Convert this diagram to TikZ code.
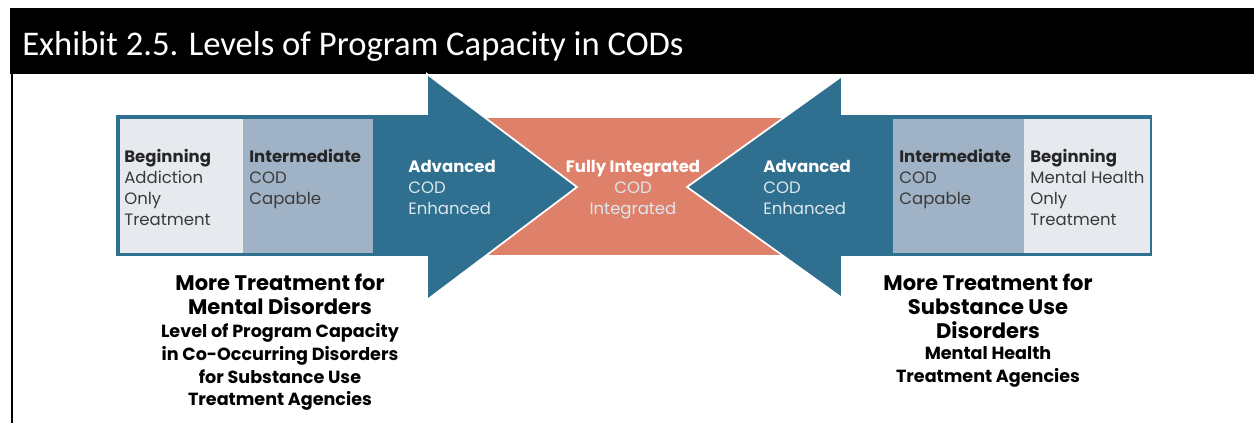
\documentclass[tikz,border=0pt]{standalone}
\usepackage{fontspec}
\setmainfont{Poppins}
\newfontfamily\titlefont{Carlito}
\usepackage{tikz}
\usetikzlibrary{calc}
\usetikzlibrary{positioning}
\definecolor{codblue}{HTML}{2F6F8F}
\definecolor{codlight}{HTML}{E6EAEE}
\definecolor{codmid}{HTML}{A0B2C6}
\definecolor{codorange}{HTML}{DF816A}
\definecolor{codpale}{HTML}{DCE7EE}
\definecolor{codtext}{HTML}{3A3A3A}
\tikzset{paneltext/.style={anchor=north west, inner sep=0pt, align=left, text=codtext,
    font=\fontsize{9.4}{11.9}\selectfont}}
\tikzset{darktext/.style={paneltext, text=codpale}}
\tikzset{headtext/.style={anchor=north, inner sep=0pt, align=center,
    font=\bfseries\fontsize{12}{13.6}\selectfont}}
\tikzset{subtext/.style={anchor=north, inner sep=0pt, align=center,
    font=\bfseries\fontsize{10}{13}\selectfont}}
\tikzset{arrowbody/.style={fill=codblue, draw=white, line width=1pt, line join=miter}}

\begin{document}
\begin{tikzpicture} [x=0.02cm,y=-0.02cm]
\useasboundingbox (0,0) rectangle (1254,423);
% title bar and frame
\fill [black] (10,8) rectangle (1254,74);
\draw [line width=1.2pt] (12,74)--(12,423);
\node [anchor=base west, inner sep=0pt, text=white, font=\titlefont\fontsize{19.7}{22}\selectfont] (title) at (22,55) {Exhibit 2.5. Levels of Program Capacity in CODs};
% middle band
\fill [codorange] (470,118) rectangle (800,255);
% the two arrows
\filldraw [arrowbody] (115,114)--(427,114)--(427,74)--(577,187)--(427,300)--(427,257)--(115,257)--cycle;
\filldraw [arrowbody] (1153,114)--(842,114)--(842,76)--(687,187)--(842,298)--(842,257)--(1153,257)--cycle;
% panels
\fill [codlight] (120,119) rectangle (243,253);
\fill [codmid] (243,119) rectangle (373,253);
\fill [codmid] (893,119) rectangle (1024,253);
\fill [codlight] (1024,119) rectangle (1150,253);
% panel texts
\node [paneltext] (beginL) at (124,149) {\textbf{\color{black!85}Beginning}\\Addiction\\Only\\Treatment};
\node [paneltext] (interL) at (249,149) {\textbf{\color{black!85}Intermediate}\\COD\\Capable};
\node [darktext] (advL) at (408,160) {\textbf{\color{white}Advanced}\\COD\\Enhanced};
\node [darktext, anchor=north, align=center] (fully) at (633,160) {\textbf{\color{white}Fully Integrated}\\COD\\Integrated};
\node [darktext] (advR) at (763,160) {\textbf{\color{white}Advanced}\\COD\\Enhanced};
\node [paneltext] (interR) at (899,149) {\textbf{\color{black!85}Intermediate}\\COD\\Capable};
\node [paneltext] (beginR) at (1030,149) {\textbf{\color{black!85}Beginning}\\Mental Health\\Only\\Treatment};
% captions below
\node [headtext] (moreL) at (280,274) {More Treatment for\\Mental Disorders};
\node [subtext] (agencyL) at (280,323) {Level of Program Capacity\\in Co-Occurring Disorders\\for Substance Use\\Treatment Agencies};
\node [headtext] (moreR) at (988,274) {More Treatment for\\Substance Use\\Disorders};
\node [subtext] (agencyR) at (988,346) {Mental Health\\Treatment Agencies};
\end{tikzpicture}
\end{document}
